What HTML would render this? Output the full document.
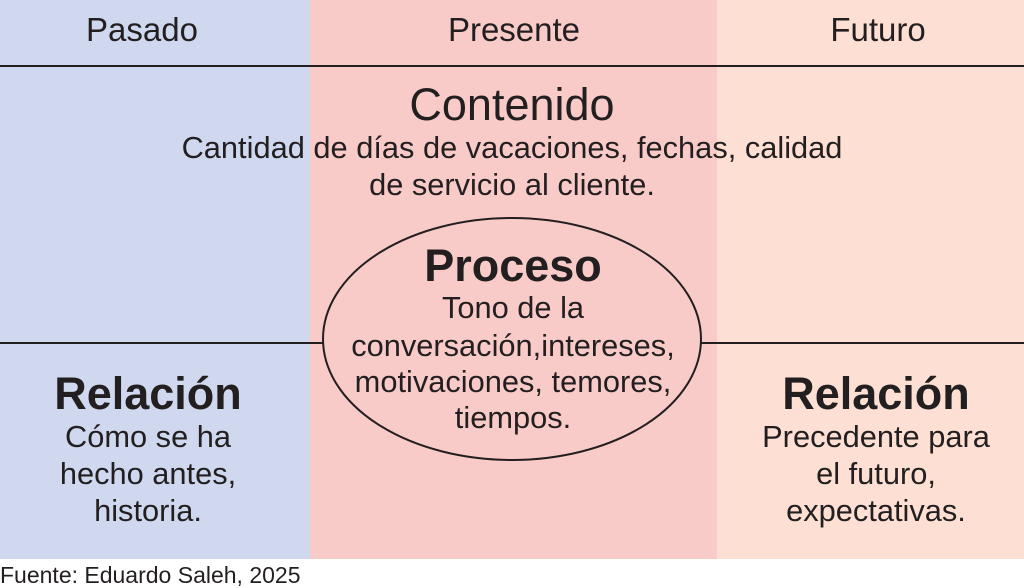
<!DOCTYPE html>
<html><head><meta charset="utf-8"><style>
html,body{margin:0;padding:0;background:#fff}
svg{display:block}
text{font-family:"Liberation Sans",Arial,sans-serif;fill:#231f20}
</style></head><body>
<svg width="1024" height="588" viewBox="0 0 1024 588">
<rect x="0" y="0" width="310" height="559" fill="#cfd8ee"/>
<rect x="310" y="0" width="407" height="559" fill="#f8cbc8"/>
<rect x="717" y="0" width="307" height="559" fill="#fde0d3"/>
<line x1="0" y1="66" x2="1024" y2="66" stroke="#231f20" stroke-width="2"/>
<line x1="0" y1="343" x2="324" y2="343" stroke="#231f20" stroke-width="2"/>
<line x1="701" y1="343" x2="1024" y2="343" stroke="#231f20" stroke-width="2"/>
<ellipse cx="512" cy="339" rx="189" ry="121" fill="none" stroke="#231f20" stroke-width="2"/>
<g font-size="33" text-anchor="middle">
<text x="142" y="41">Pasado</text>
<text x="514" y="41">Presente</text>
<text x="878" y="41">Futuro</text>
</g>
<text x="512" y="120" font-size="45" text-anchor="middle">Contenido</text>
<g font-size="30.8" text-anchor="middle">
<text x="512" y="158">Cantidad de días de vacaciones, fechas, calidad</text>
<text x="512" y="195">de servicio al cliente.</text>
</g>
<text x="513" y="281" font-size="45" font-weight="bold" text-anchor="middle">Proceso</text>
<g font-size="30.8" text-anchor="middle">
<text x="513" y="318">Tono de la</text>
<text x="513" y="356">conversación,intereses,</text>
<text x="513" y="392">motivaciones, temores,</text>
<text x="513" y="428">tiempos.</text>
</g>
<text x="148" y="409" font-size="45" font-weight="bold" text-anchor="middle">Relación</text>
<g font-size="30.8" text-anchor="middle">
<text x="148" y="447">Cómo se ha</text>
<text x="148" y="484">hecho antes,</text>
<text x="148" y="521">historia.</text>
</g>
<text x="876" y="409" font-size="45" font-weight="bold" text-anchor="middle">Relación</text>
<g font-size="30.8" text-anchor="middle">
<text x="876" y="447">Precedente para</text>
<text x="876" y="484">el futuro,</text>
<text x="876" y="521">expectativas.</text>
</g>
<text x="0" y="583" font-size="23">Fuente: Eduardo Saleh, 2025</text>
</svg>
</body></html>
